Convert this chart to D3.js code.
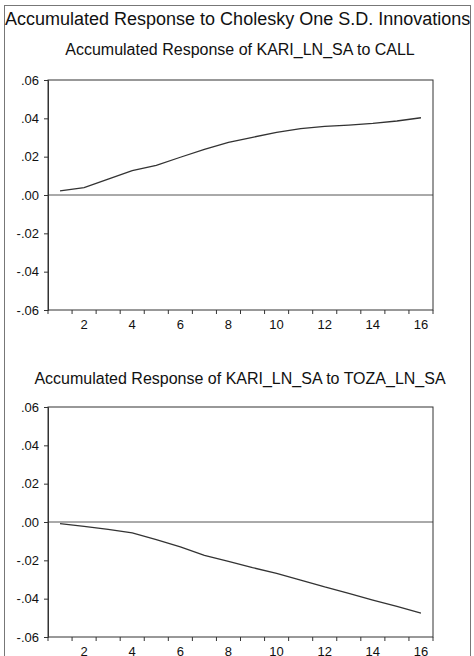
<!DOCTYPE html>
<html>
<head>
<meta charset="utf-8">
<script src="https://cdn.jsdelivr.net/npm/d3@7"></script>
<style>
  body { margin: 0; background: #fff; }
  text { font-family: "Liberation Sans", Arial, sans-serif; fill: #111; }
</style>
</head>
<body>
<svg id="chart" width="474" height="656"></svg>
<script>
// accumulated impulse responses
var periods = d3.range(1, 17);
var respCall = [0.0022, 0.0038, 0.0083, 0.0127, 0.0155, 0.0197, 0.0238, 0.0275,
                0.0301, 0.0327, 0.0346, 0.0358, 0.0365, 0.0374, 0.0386, 0.0403];
var respToza = [-0.0009, -0.0023, -0.0039, -0.0057, -0.0092, -0.0130, -0.0174, -0.0205,
                -0.0238, -0.0268, -0.0303, -0.0339, -0.0372, -0.0407, -0.0440, -0.0475];
var yTicks = [-0.06, -0.04, -0.02, 0, 0.02, 0.04, 0.06];
var xLabels = [2, 4, 6, 8, 10, 12, 14, 16];

var svg = d3.select("#chart");

// outer frame
svg.append("rect")
    .attr("x", 4.5).attr("y", 5.5)
    .attr("width", 466).attr("height", 660)
    .attr("fill", "none").attr("stroke", "#777");

svg.append("text")
    .attr("x", 5).attr("y", 25)
    .style("font-size", "18px")
    .text("Accumulated Response to Cholesky One S.D. Innovations");

function fmt(v) {
    if (v === 0) return ".00";
    var s = d3.format(".2f")(Math.abs(v)).replace(/^0/, "");
    return (v < 0 ? "-" : "") + s;
}

function drawPanel(top, titleY, title, values)
{
    var left = 48, right = 433, bottom = top + 230;

    var x = d3.scaleBand().domain(periods).range([left, right]);
    var y = d3.scaleLinear().domain([-0.06, 0.06]).range([bottom, top]);

    svg.append("text")
        .attr("x", 240).attr("y", titleY)
        .attr("text-anchor", "middle")
        .style("font-size", "16px")
        .text(title);

    var g = svg.append("g");

    // zero line
    g.append("line")
        .attr("x1", left).attr("x2", right)
        .attr("y1", y(0)).attr("y2", y(0))
        .attr("stroke", "#555");

    // frame
    g.append("rect")
        .attr("x", left).attr("y", top)
        .attr("width", right - left).attr("height", bottom - top)
        .attr("fill", "none").attr("stroke", "#333");

    // left axis
    var yAxis = d3.axisLeft(y).tickValues(yTicks).tickSize(4).tickFormat(fmt);
    g.append("g")
        .attr("transform", "translate(" + left + ",0)")
        .call(yAxis)
        .call(function(a) {
            a.select(".domain").attr("stroke", "#333");
            a.selectAll(".tick line").attr("stroke", "#333");
            a.selectAll("text").style("font-size", "13px")
                .style("font-family", "Liberation Sans, Arial, sans-serif")
                .attr("fill", "#111").attr("x", -9);
        });

    // bottom ticks on period boundaries, labels in the middle
    var bounds = d3.range(0, 17).map(function(i) { return left + i * x.step(); });
    g.selectAll(".xt").data(bounds).enter().append("line")
        .attr("x1", function(d) { return d; }).attr("x2", function(d) { return d; })
        .attr("y1", bottom).attr("y2", bottom + 4)
        .attr("stroke", "#333");

    g.selectAll(".xl").data(xLabels).enter().append("text")
        .attr("x", function(d) { return x(d) + x.bandwidth() / 2; })
        .attr("y", bottom + 19)
        .attr("text-anchor", "middle")
        .style("font-size", "13px")
        .text(function(d) { return d; });

    var line = d3.line()
        .x(function(d, i) { return x(periods[i]) + x.bandwidth() / 2; })
        .y(function(d) { return y(d); });

    g.append("path")
        .datum(values)
        .attr("d", line)
        .attr("fill", "none")
        .attr("stroke", "#333")
        .attr("stroke-width", 1.3);
}

drawPanel(80, 55, "Accumulated Response of KARI_LN_SA to CALL", respCall);
drawPanel(407, 384, "Accumulated Response of KARI_LN_SA to TOZA_LN_SA", respToza);
</script>
</body>
</html>
